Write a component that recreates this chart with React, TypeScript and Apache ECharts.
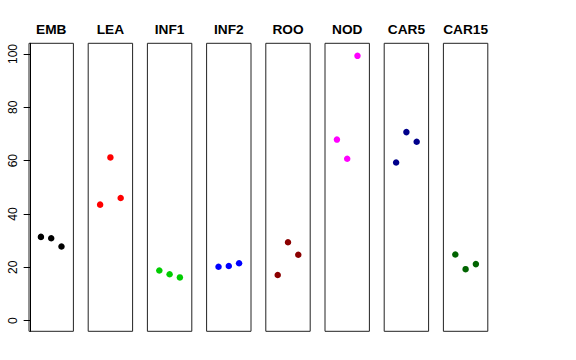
import React, { useEffect, useRef } from "react";
import * as echarts from "echarts";

const panels = ["EMB", "LEA", "INF1", "INF2", "ROO", "NOD", "CAR5", "CAR15"];
const colors = ["#000000", "#FF0000", "#00CD00", "#0000FF", "#8B0000", "#FF00FF", "#00008B", "#006400"];
const positions = [1, 2, 3];
const values: number[][] = [
  [31.4, 30.9, 27.8],
  [43.5, 61.2, 46.0],
  [18.8, 17.4, 16.2],
  [20.2, 20.5, 21.5],
  [17.1, 29.4, 24.7],
  [67.9, 60.7, 99.3],
  [59.3, 70.7, 67.1],
  [24.8, 19.3, 21.2],
];
const yTicks = [0, 20, 40, 60, 80, 100];

export default function App() {
  const ref = useRef<HTMLDivElement>(null);
  useEffect(() => {
    if (!ref.current) return;
    const chart = echarts.init(ref.current, null, { renderer: "svg" });
    const left0 = 29;
    const pitch = 59.2;
    const w = 44.4;
    const top = 43.3;
    const h = 288;
    const font = "Liberation Sans, Arial, Helvetica, sans-serif";
    const grids = panels.map((_, i) => ({
      left: left0 + i * pitch,
      top,
      width: w,
      height: h,
      show: true,
      borderColor: "#222",
      borderWidth: 1,
      backgroundColor: "transparent",
    }));
    const xAxes = panels.map((_, i) => ({
      type: "value",
      gridIndex: i,
      min: -0.16,
      max: 4.16,
      show: false,
    }));
    const yAxes = panels.map((_, i) => ({
      type: "value",
      gridIndex: i,
      min: -4,
      max: 104,
      show: i === 0,
      splitLine: { show: false },
      axisLine: { show: i === 0, lineStyle: { color: "#000", width: 1 } },
      axisTick: {
        show: i === 0,
        length: 7,
        customValues: yTicks,
        lineStyle: { color: "#000", width: 1 },
      },
      axisLabel: {
        show: i === 0,
        customValues: yTicks,
        rotate: 90,
        margin: 10,
        color: "#000",
        fontSize: 12,
        fontFamily: font,
      },
    }));
    const series = panels.map((_, i) => ({
      type: "scatter",
      xAxisIndex: i,
      yAxisIndex: i,
      symbol: "circle",
      symbolSize: 6.5,
      itemStyle: { color: colors[i], opacity: 1 },
      data: positions.map((p, j) => [p, values[i][j]]),
    }));
    const graphic = panels.map((name, i) => ({
      type: "text",
      x: left0 + i * pitch + w / 2,
      y: 29.5,
      style: {
        text: name,
        fill: "#000",
        font: `bold 13.7px ${font}`,
        textAlign: "center",
        textVerticalAlign: "middle",
      },
    }));
    chart.setOption({
      animation: false,
      backgroundColor: "#fff",
      grid: grids,
      xAxis: xAxes,
      yAxis: yAxes,
      series,
      graphic,
    });
    return () => chart.dispose();
  }, []);
  return <div ref={ref} style={{ width: 576, height: 360, position: "absolute", left: 0, top: 0 }} />;
}
